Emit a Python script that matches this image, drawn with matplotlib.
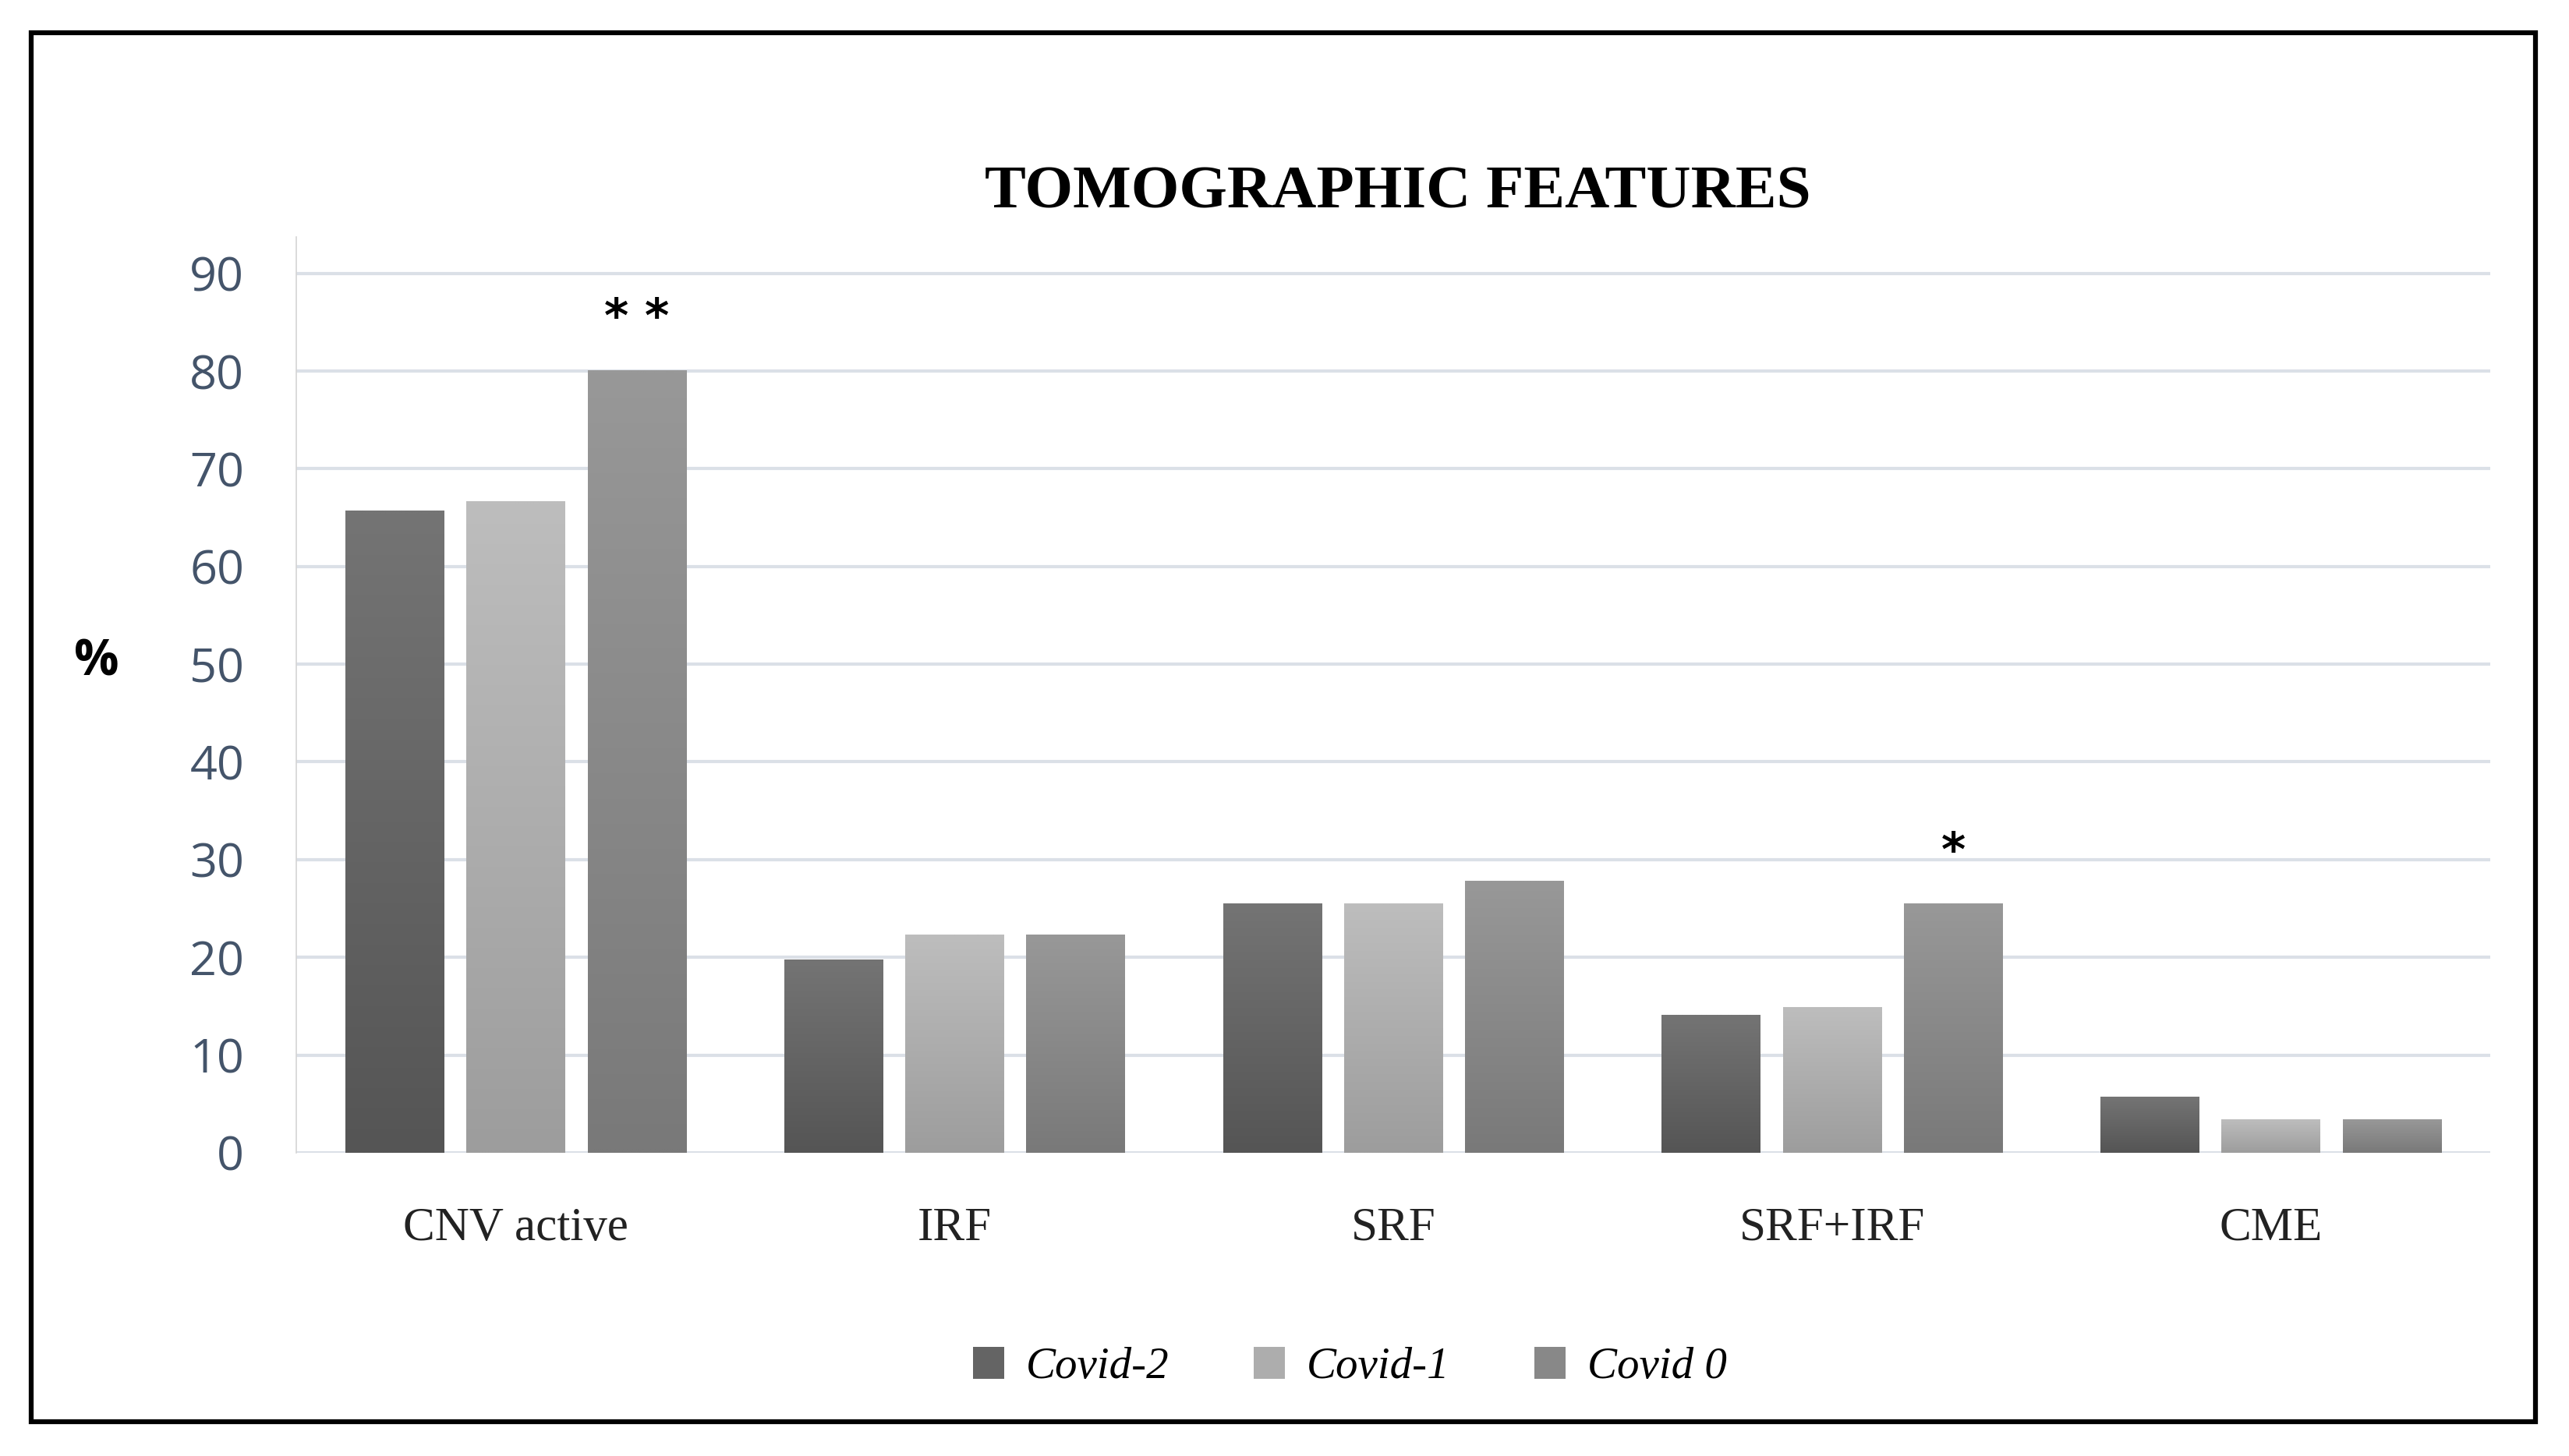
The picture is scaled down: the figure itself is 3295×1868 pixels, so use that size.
import matplotlib
matplotlib.use("Agg")
import matplotlib.pyplot as plt
import numpy as np
from matplotlib.patches import Patch, Rectangle

# data
categories = ["CNV active", "IRF", "SRF", "SRF+IRF", "CME"]
series = ["Covid-2", "Covid-1", "Covid 0"]
covid_m2 = [65.7, 19.8, 25.5, 14.1, 5.7]
covid_m1 = [66.7, 22.3, 25.5, 14.9, 3.4]
covid_0 = [80.1, 22.3, 27.8, 25.5, 3.4]
stars = {("CNV active", "Covid 0"): "* *", ("SRF+IRF", "Covid 0"): "*"}

# (top, bottom) colours of each bar gradient
grads = [("#747474", "#555555"), ("#bdbdbd", "#9d9d9d"), ("#989898", "#797979")]

fig = plt.figure(figsize=(32.95, 18.68), dpi=100)
ax = fig.add_axes([0.1153, 0.2083, 0.854, 0.6288])

x = np.arange(len(categories))
w = 0.224
step = 0.276
values = [covid_m2, covid_m1, covid_0]
for i, (name, vals) in enumerate(zip(series, values)):
    top, bot = grads[i]
    c_top = np.array(matplotlib.colors.to_rgb(top))
    c_bot = np.array(matplotlib.colors.to_rgb(bot))
    bars = ax.bar(x + (i - 1) * step, vals, width=w, color=top, zorder=3, linewidth=0)
    for b in bars:
        g = np.linspace(0, 1, 100)[:, None]
        img = (c_top[None, :] * (1 - g) + c_bot[None, :] * g)[:, None, :]
        bx, by = b.get_x(), b.get_y()
        im = ax.imshow(img, extent=[bx, bx + b.get_width(), by, by + b.get_height()],
                       origin="upper", aspect="auto", zorder=4, interpolation="bilinear")
        im.set_clip_path(b)

for (cat, ser), txt in stars.items():
    ci = categories.index(cat)
    si = series.index(ser)
    v = values[si][ci]
    ax.text(x[ci] + (si - 1) * step, v + 5.2, txt, ha="center", va="center",
            fontsize=43, fontweight="bold", fontfamily="DejaVu Sans", zorder=5)

ax.set_xlim(-0.5, len(categories) - 0.5)
ax.set_ylim(0, 93.7)
ax.set_yticks(np.arange(0, 91, 10))
ax.yaxis.grid(True, color="#dbe0e7", linewidth=3, zorder=0)
ax.set_axisbelow(True)
for s in ["top", "right", "bottom"]:
    ax.spines[s].set_visible(False)
ax.spines["left"].set_color("#d4d4d4")
ax.spines["left"].set_linewidth(1.2)
ax.tick_params(axis="y", length=0, pad=48, labelsize=44, labelcolor="#44546a")
ax.tick_params(axis="x", length=0, pad=50)
ax.set_xticks(x)
ax.set_xticklabels(categories, fontfamily="Liberation Serif", fontsize=44, color="#222222")
for lbl in ax.get_yticklabels():
    lbl.set_fontfamily("Open Sans")

ax.text(-0.0807, 0.535, "%", transform=ax.transAxes, fontsize=46, fontweight="bold",
        ha="right", va="center", fontfamily="Open Sans")

fig.text(0.544, 0.867, "TOMOGRAPHIC FEATURES", ha="center", va="center",
         fontsize=57, fontweight="bold", fontfamily="Liberation Serif")

handles = [Patch(facecolor=matplotlib.colors.to_hex(
    (np.array(matplotlib.colors.to_rgb(t)) + np.array(matplotlib.colors.to_rgb(b))) / 2))
    for t, b in grads]
leg = fig.legend(handles, series, loc="center", bbox_to_anchor=(0.5255, 0.061), ncol=3,
                 frameon=False, prop={"family": "Liberation Serif", "style": "italic",
                                      "size": 41},
                 handlelength=0.7, handleheight=0.75, handletextpad=0.5, columnspacing=1.9)

fig.patches.append(Rectangle((0.0121, 0.0236), 0.9749, 0.9539, transform=fig.transFigure,
                             fill=False, edgecolor="black", linewidth=4.5))

fig.savefig("out.png", dpi=100, facecolor="white")
